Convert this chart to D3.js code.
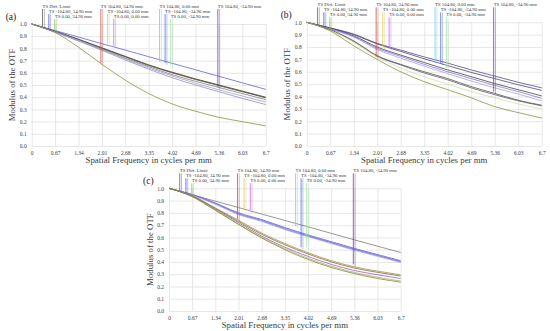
<html>
<head>
<script src="https://d3js.org/d3.v7.min.js"></script>
<style>
body { margin: 0; background: #fff; }
text { font-family: "Liberation Serif", "DejaVu Serif", serif; fill: #3a3a3a; font-weight: normal; }
.grid line { stroke: #dcdcdc; stroke-width: 0.7; }
.grid path { display: none; }
</style>
</head>
<body>
<svg width="550" height="331"></svg>
<script>

var svg = d3.select("svg");

// spatial frequency ticks (cycles per mm)
var freq = [0, 0.67, 1.34, 2.01, 2.68, 3.35, 4.02, 4.69, 5.36, 6.03, 6.7];
var freqLabels = ["0", "0.67", "1.34", "2.01", "2.68", "3.35", "4.02", "4.69", "5.36", "6.03", "6.7"];
var modTicks = [0, 0.1, 0.2, 0.3, 0.4, 0.5, 0.6, 0.7, 0.8, 0.9, 1.0];

// legend markers across the top
var markerNames = ["TS Diff. Limit", "TS -104.80, 34.90 mm", "TS 0.00, 34.90 mm",
  "TS 104.80, 34.90 mm", "TS -104.80, 0.00 mm", "TS 0.00, 0.00 mm",
  "TS 104.80, 0.00 mm", "TS -104.80, -34.90 mm", "TS 0.00, -34.90 mm",
  "TS 104.80, -34.90 mm"];
var markerRow = [0, 1, 2, 0, 1, 2, 0, 1, 2, 0];
var markerFreq = [0.31, 0.49, 0.66, 1.98, 2.17, 2.35, 3.66, 3.82, 3.98, 5.33];
var markerEndA = [0.98, 0.96, 0.95, 0.68, 0.84, 0.82, 0.69, 0.68, 0.66, 0.48];
var markerEndB = [0.98, 0.96, 0.94, 0.72, 0.80, 0.79, 0.69, 0.67, 0.63, 0.44];
var markerEndC = [0.98, 0.96, 0.94, 0.75, 0.83, 0.82, 0.69, 0.52, 0.52, 0.38];

// MTF curves, one value per frequency tick
var seriesA = [
  [1, .946, .893, .839, .786, .732, .678, .625, .571, .518, .464],
  [1, .94, .875, .805, .735, .665, .605, .55, .50, .45, .40],
  [1, .94, .873, .80, .73, .66, .60, .545, .495, .445, .395],
  [1, .938, .87, .795, .72, .65, .585, .53, .48, .43, .38],
  [1, .935, .865, .79, .715, .64, .575, .515, .46, .41, .36],
  [1, .933, .86, .785, .705, .63, .56, .50, .445, .39, .34],
  [1, .93, .81, .67, .54, .43, .345, .285, .235, .20, .165]
];
var seriesB = [
  [1, .955, .905, .83, .775, .72, .67, .615, .565, .515, .47],
  [1, .953, .90, .825, .765, .705, .65, .595, .545, .495, .45],
  [1, .95, .89, .80, .735, .675, .615, .56, .505, .455, .405],
  [1, .948, .885, .79, .725, .66, .60, .545, .49, .44, .385],
  [1, .945, .88, .78, .71, .645, .585, .525, .47, .42, .365],
  [1, .94, .85, .73, .66, .60, .545, .48, .425, .37, .33],
  [1, .938, .845, .725, .655, .59, .535, .47, .415, .365, .325],
  [1, .935, .84, .72, .63, .56, .50, .44, .39, .34, .30],
  [1, .93, .81, .70, .60, .52, .455, .39, .318, .27, .226]
];
var seriesC = [
  [1, .948, .895, .843, .79, .738, .686, .633, .58, .528, .477],
  [1, .95, .88, .80, .745, .68, .62, .565, .51, .46, .41],
  [1, .948, .877, .795, .74, .675, .615, .56, .505, .455, .405],
  [1, .946, .874, .79, .735, .668, .61, .555, .50, .45, .40],
  [1, .944, .87, .785, .73, .663, .605, .55, .495, .445, .395],
  [1, .94, .84, .74, .635, .55, .475, .41, .36, .325, .295],
  [1, .938, .835, .73, .625, .54, .465, .40, .35, .315, .285],
  [1, .936, .83, .72, .61, .52, .445, .38, .33, .295, .265],
  [1, .934, .825, .71, .60, .51, .43, .365, .315, .275, .245],
  [1, .932, .82, .705, .595, .50, .42, .355, .305, .265, .235]
];

var colorsA = ["#5a5ad5", "#2a2a2a", "#4a4020", "#7a7a7a", "#9e9ec4", "#8585cc", "#8a8a35"];
var colorsB = ["#5a3a7a", "#3d3d62", "#383838", "#7d6dd0", "#a898e2", "#4d4d34", "#5d4d72", "#c8e0a5", "#8a8a35"];
var colorsC = ["#747474", "#4a4ac8", "#8e8ee2", "#6e5ed2", "#a8a8f0", "#a08a45", "#6e6e25", "#9d50b2", "#98b268", "#7d7d25"];
var markerColors = ["#555555", "#4a4ae0", "#7ac040", "#c04a3a", "#e0c850", "#d060e0", "#60d0f0", "#4a66e0", "#a0e0a0", "#7030a0"];

var panels = [
  { tag: "(a)", x0: 31.7, x1: 265.7, top: 24, bottom: 146, series: seriesA, colors: colorsA, ends: markerEndA },
  { tag: "(b)", x0: 306.7, x1: 541.7, top: 22.3, bottom: 146, series: seriesB, colors: colorsB, ends: markerEndB },
  { tag: "(c)", x0: 169, x1: 400.7, top: 188.3, bottom: 311, series: seriesC, colors: colorsC, ends: markerEndC }
];

panels.forEach(drawPanel);

function drawPanel(p) {
  var g = svg.append("g");
  var x = d3.scaleLinear().domain([0, 6.7]).range([p.x0, p.x1]);
  var y = d3.scaleLinear().domain([0, 1]).range([p.bottom, p.top]);

  // grid + tick labels
  var yAxis = d3.axisLeft(y).tickValues(modTicks).tickSize(-(p.x1 - p.x0))
    .tickPadding(5).tickFormat(d3.format(".1f"));
  var xAxis = d3.axisBottom(x).tickValues(freq).tickSize(-(p.bottom - p.top))
    .tickPadding(5).tickFormat(function (d, i) { return freqLabels[i]; });

  g.append("g").attr("class", "grid").attr("transform", "translate(" + p.x0 + ",0)").call(yAxis)
    .attr("font-family", null)
    .selectAll("text").style("font-size", "5.5px");
  g.append("g").attr("class", "grid").attr("transform", "translate(0," + p.bottom + ")").call(xAxis)
    .attr("font-family", null)
    .selectAll("text").style("font-size", "5.5px");

  // curves
  var line = d3.line()
    .x(function (d, i) { return x(freq[i]); })
    .y(function (d) { return y(d); })
    .curve(d3.curveMonotoneX);

  g.selectAll("path.mtf").data(p.series).enter().append("path")
    .attr("class", "mtf")
    .attr("d", line)
    .attr("fill", "none")
    .attr("stroke", function (d, i) { return p.colors[i]; })
    .attr("stroke-width", 0.75);

  // legend markers
  markerNames.forEach(function (name, i) {
    var mx = x(markerFreq[i]);
    var ty = p.top - 16.5 + markerRow[i] * 5;
    g.append("line")
      .attr("x1", mx).attr("x2", mx)
      .attr("y1", ty + 1.5).attr("y2", y(p.ends[i]))
      .attr("stroke", markerColors[i]).attr("stroke-width", 0.75);
    g.append("line")
      .attr("x1", mx + 1.8).attr("x2", mx + 1.8)
      .attr("y1", ty + 1.5).attr("y2", y(p.ends[i]) + 2)
      .attr("stroke", markerColors[i]).attr("stroke-width", 0.75).attr("opacity", 0.5);
    g.append("text")
      .attr("x", mx).attr("y", ty)
      .style("font-size", "4.8px")
      .text(name);
  });

  // titles
  g.append("text")
    .attr("x", (p.x0 + p.x1) / 2).attr("y", p.bottom + 16.5)
    .attr("text-anchor", "middle")
    .style("font-size", "8.8px")
    .text("Spatial Frequency in cycles per mm");

  g.append("text")
    .attr("transform", "translate(" + (p.x0 - 16.5) + "," + ((p.top + p.bottom) / 2) + ") rotate(-90)")
    .attr("text-anchor", "middle")
    .style("font-size", "8.8px")
    .text("Modulus of the OTF");

  g.append("text")
    .attr("x", p.x0 - 26).attr("y", p.top - 4)
    .style("font-size", "9.5px")
    .style("fill", "#222")
    .text(p.tag);
}

</script>
</body>
</html>
